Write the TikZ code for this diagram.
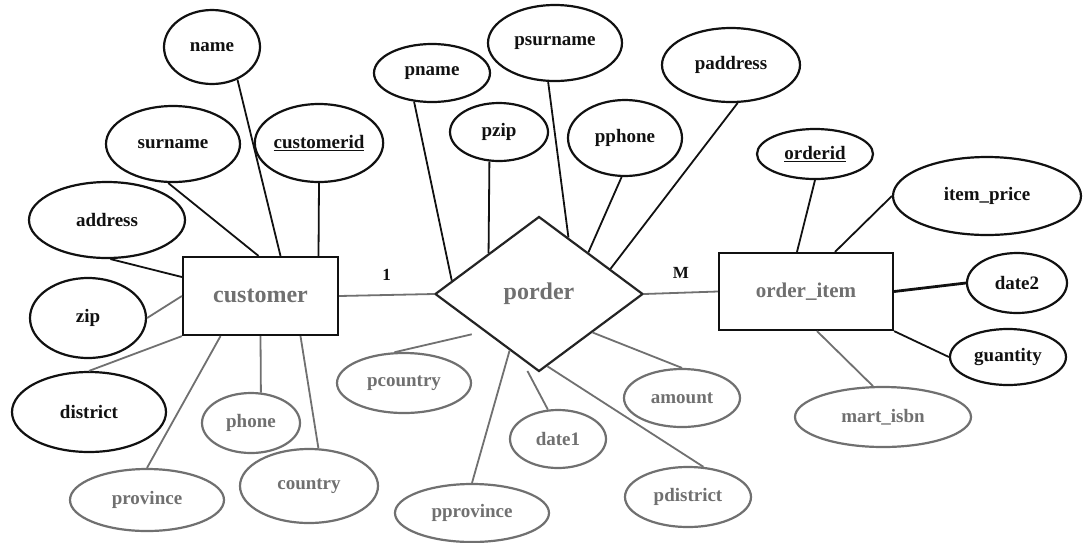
\documentclass[tikz,border=0pt]{standalone}
\usepackage{fontspec}
\setmainfont{Liberation Serif}
\usetikzlibrary{shapes.geometric, calc}
\definecolor{grisScan}{HTML}{707070}
\definecolor{negroScan}{HTML}{111111}

\begin{document}
\begin{tikzpicture}[x=1pt, y=-1pt, font=\bfseries\fontsize{19}{22}\selectfont,
        sz/.style 2 args={minimum width=#1pt, minimum height=#2pt},
        atrib/.style={ellipse, draw=negroScan, line width=2.2pt, inner sep=0pt, text=negroScan},
        atribG/.style={atrib, draw=grisScan, text=grisScan},
        entidad/.style={draw=negroScan, line width=2.2pt, inner sep=0pt, text=grisScan,
            font=\bfseries\fontsize{24}{28}\selectfont},
        relacion/.style={diamond, draw=negroScan!80!grisScan, line width=2.2pt, inner sep=0pt,
            text=grisScan, font=\bfseries\fontsize{24}{28}\selectfont},
        card/.style={text=negroScan, font=\bfseries\fontsize{17}{20}\selectfont},
        lin/.style={draw=negroScan, line width=1.8pt},
        linG/.style={draw=grisScan, line width=1.8pt}]
        \path[use as bounding box, fill=white] (0,0) rectangle (1085,542);
        % entidades y relacion
        \node[entidad, sz={155}{78}] (cu) at (260.5,296) {customer};
        \node[relacion, sz={208}{155}] (po) at (539,294) {porder};
        \node[entidad, sz={174}{77}, font=\bfseries\fontsize{21}{24}\selectfont] (oi) at (806,291.5) {order\_item};
        % atributos de customer
        \node[atrib, sz={96}{74}]   (nm)  at (212,47)  {name};
        \node[atrib, sz={134}{76}]  (sn)  at (173,144) {surname};
        \node[atrib, sz={122}{78}]  (cid) at (319,143) {\underline{customerid}};
        \node[atrib, sz={156}{76}]  (adr) at (107,220) {address};
        \node[atrib, sz={116}{80}]  (zp)  at (88,318)  {zip};
        \node[atrib, sz={154}{80}]  (dst) at (89,412)  {district};
        \node[atribG, sz={154}{62}] (prv) at (147,500) {province};
        \node[atribG, sz={98}{60}]  (phn) at (251,423) {phone};
        \node[atribG, sz={138}{74}] (ctr) at (309,486) {country};
        % atributos de porder
        \node[atrib, sz={116}{58}]  (pnm) at (432,73)  {pname};
        \node[atrib, sz={98}{58}]   (pzp) at (499,132) {pzip};
        \node[atrib, sz={134}{76}]  (psn) at (555,43)  {psurname};
        \node[atrib, sz={114}{76}]  (pph) at (625,138) {pphone};
        \node[atrib, sz={138}{74}]  (pad) at (731,65)  {paddress};
        \node[atribG, sz={134}{60}] (pct) at (404,383) {pcountry};
        \node[atribG, sz={154}{58}] (ppv) at (472,513) {pprovince};
        \node[atribG, sz={96}{58}]  (dt1) at (558,439) {date1};
        \node[atribG, sz={116}{58}] (amt) at (682,398) {amount};
        \node[atribG, sz={126}{60}] (pds) at (688,497) {pdistrict};
        % atributos de order_item
        \node[atrib, sz={116}{50}]  (oid) at (815,154) {\underline{orderid}};
        \node[atrib, sz={188}{78}]  (ipr) at (987,196) {item\_price};
        \node[atrib, sz={100}{60}]  (dt2) at (1017,283) {date2};
        \node[atrib, sz={116}{56}]  (qty) at (1008,357) {guantity};
        \node[atribG, sz={176}{60}] (isb) at (883,417) {mart\_isbn};
        % conectores
        \draw[lin]  (nm.-52) -- ([xshift=20pt]cu.north);
        \draw[lin]  (sn.-97) -- ([xshift=-2pt]cu.north);
        \draw[lin]  (cid.south) -- ([xshift=58pt]cu.north);
        \draw[lin]  (adr.-85) -- ([yshift=19pt]cu.west);
        \draw[linG] (zp.east) -- (cu.west);
        \draw[linG] (dst.north) -- (cu.south west);
        \draw[linG] (prv.north) -- ([xshift=-40pt]cu.south);
        \draw[linG] (phn.72) -- (cu.south);
        \draw[linG] (ctr.76) -- ([xshift=40pt]cu.south);
        \draw[linG] (cu.east) -- node[card, above=10pt]{1} (po.west);
        \draw[linG] (po.east) -- node[card, above=10pt]{M} (oi.west);
        \draw[lin]  (pnm.-122) -- ($(po.west)!0.17!(po.north)$);
        \draw[lin]  (pzp.-108) -- ($(po.west)!0.52!(po.north)$);
        \draw[lin]  (psn.-100) -- ($(po.north)!0.28!(po.east)$);
        \draw[lin]  (pph.-95) -- ($(po.north)!0.47!(po.east)$);
        \draw[lin]  (pad.-80) -- ($(po.north)!0.68!(po.east)$);
        \draw[linG] (pct.107) -- ($(po.west)!0.36!(po.south)+(0,12)$);
        \draw[linG] (ppv.north) -- ($(po.west)!0.72!(po.south)$);
        \draw[linG] (dt1.109) -- ($(po.west)!0.89!(po.south)+(0,7)$);
        \draw[linG] (amt.north) -- ($(po.south)!0.51!(po.east)$);
        \draw[linG] (pds.63) -- ($(po.south)!0.08!(po.east)$);
        \draw[lin]  (oid.south) -- ([xshift=-9pt]oi.north);
        \draw[lin]  (ipr.west) -- ([xshift=29pt]oi.north);
        \draw[lin, line width=2.8pt] (oi.east) -- (dt2.west);
        \draw[lin]  (oi.south east) -- (qty.west);
        \draw[linG] ([xshift=11pt]oi.south) -- (isb.108);
    \end{tikzpicture}
\end{document}
